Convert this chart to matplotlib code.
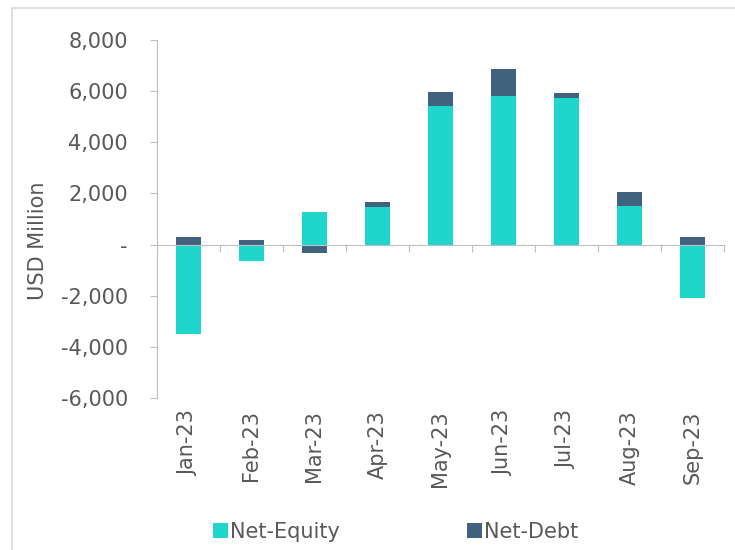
import matplotlib.pyplot as plt
from matplotlib.patches import Patch, Rectangle
from matplotlib.transforms import blended_transform_factory

months = ['Jan-23', 'Feb-23', 'Mar-23', 'Apr-23', 'May-23',
          'Jun-23', 'Jul-23', 'Aug-23', 'Sep-23']
net_equity = [-3500, -630, 1260, 1460, 5400, 5810, 5750, 1520, -2080]
net_debt = [290, 170, -330, 210, 550, 1050, 160, 540, 290]

c_equity = '#1fd6cc'
c_debt = '#41627f'
grey = '#595959'
axis_grey = '#bfbfbf'

plt.rcParams['font.family'] = ['DejaVu Sans']

fig = plt.figure(figsize=(7.35, 5.5), dpi=100)
ax = fig.add_axes([0.2136, 0.2764, 0.7714, 0.6509])

x = list(range(len(months)))
# Excel-style stacking: positives stack up, negatives stack down
debt_bottom = [e if (e >= 0) == (d >= 0) else 0 for e, d in zip(net_equity, net_debt)]
ax.bar(x, net_equity, width=0.4, color=c_equity, zorder=2)
ax.bar(x, net_debt, bottom=debt_bottom, width=0.4, color=c_debt, zorder=2)

ax.set_xlim(-0.5, len(months) - 0.5)
ax.set_ylim(-6000, 8000)
yticks = list(range(-6000, 8001, 2000))
ax.set_yticks(yticks)
ax.set_yticklabels([f'{v:,}' if v != 0 else '-' for v in yticks])
ax.tick_params(axis='y', colors=axis_grey, labelcolor=grey, labelsize=15,
               length=5, width=0.8, pad=16)

ax.spines['bottom'].set_position(('data', 0))
ax.spines['bottom'].set_color(axis_grey)
ax.spines['left'].set_color(axis_grey)
ax.spines['top'].set_visible(False)
ax.spines['right'].set_visible(False)
ax.set_xticks([i - 0.5 for i in range(len(months) + 1)])
ax.set_xticklabels([])
ax.tick_params(axis='x', colors=axis_grey, length=5, width=0.8)

trans = blended_transform_factory(ax.transData, ax.transAxes)
for i, m in enumerate(months):
    ax.text(i, -0.034, m, transform=trans, rotation=90, ha='center', va='top',
            fontsize=15, color=grey)

ax.set_ylabel('USD Million', fontsize=15, color=grey)
ax.yaxis.set_label_coords(-0.192, 0.44)

handles = [Patch(facecolor=c_equity, edgecolor='none'),
           Patch(facecolor=c_debt, edgecolor='none')]
fig.legend(handles, ['Net-Equity', 'Net-Debt'], loc='center left',
           bbox_to_anchor=(0.264, 0.033), ncol=2, frameon=False,
           handlelength=0.72, handleheight=0.72, handletextpad=0.1,
           columnspacing=6.1, fontsize=15, labelcolor=grey)

fig.patches.append(Rectangle((12 / 735, -0.1), 1.2, 1 - 8 / 550 + 0.1,
                             transform=fig.transFigure, fill=False,
                             edgecolor='#d9d9d9', linewidth=1.2))

fig.savefig('out.png', dpi=100)
